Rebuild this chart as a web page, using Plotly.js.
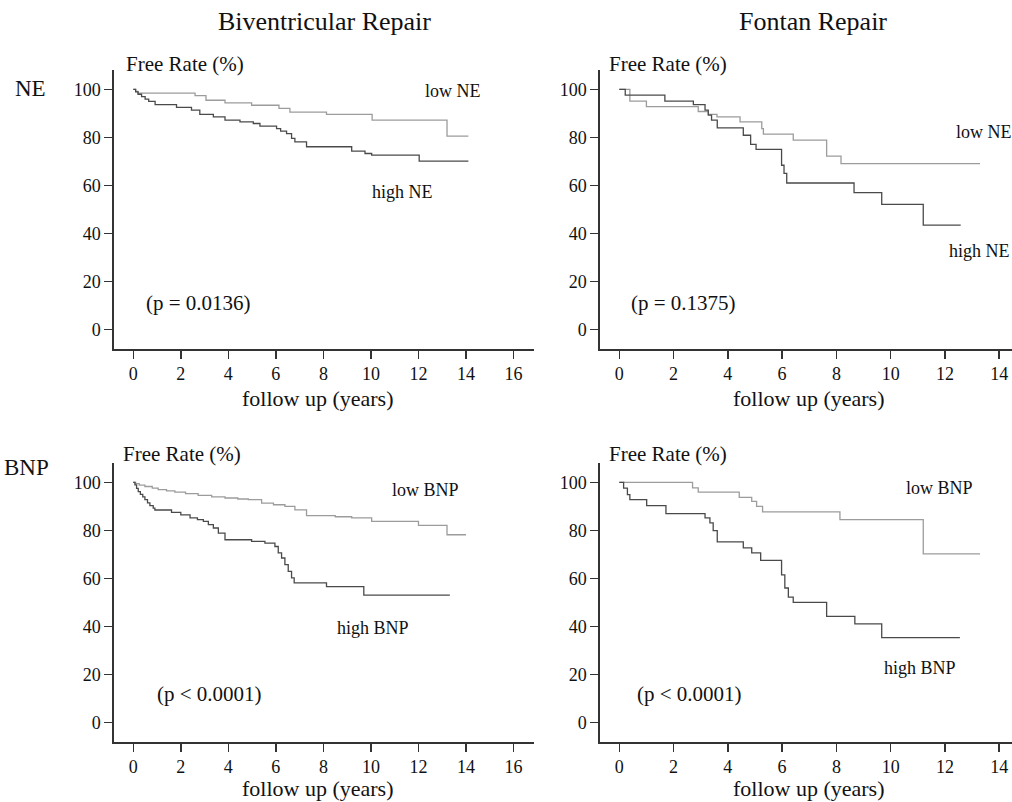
<!DOCTYPE html>
<html>
<head>
<meta charset="utf-8">
<script src="https://cdn.plot.ly/plotly-3.0.1.min.js"></script>
<style>html,body{margin:0;padding:0;background:#fff;}#chart{width:1012px;height:802px;}</style>
</head>
<body>
<div id="chart"></div>
<script>
// ---- Data ----
const xTicksLeft = [0, 2, 4, 6, 8, 10, 12, 14, 16];
const xTicksRight = [0, 2, 4, 6, 8, 10, 12, 14];
const yTicks = [0, 20, 40, 60, 80, 100];

// Biventricular repair, NE
const bivLowNE_t = [0, 0.1, 0.2, 2.6, 3.06, 3.86, 4.98, 6.13, 6.59, 8.13, 10.05, 13.2, 14.1];
const bivLowNE_v = [100, 99.2, 98.5, 97.4, 95.5, 94.4, 93.4, 92.1, 90.5, 89.6, 87.2, 80.5, 80.5];
const bivHighNE_t = [0, 0.1, 0.2, 0.35, 0.5, 0.65, 0.92, 1.82, 2.45, 2.8, 3.37, 3.86, 4.49, 5.05, 5.33, 6.03, 6.2, 6.45, 6.66, 6.8, 7.29, 9.19, 9.75, 10.03, 12.03, 14.1];
const bivHighNE_v = [100, 99, 98, 97, 96, 95, 93.7, 92.5, 91.4, 89.6, 88.6, 87.2, 86.5, 85.8, 84.7, 83.7, 82.6, 81.6, 79.6, 78.1, 76.1, 74.3, 73.3, 72.6, 70.1, 70.1];

// Fontan repair, NE
const fonLowNE_t = [0, 0.39, 1.0, 2.91, 3.28, 3.6, 4.45, 5.25, 5.31, 6.41, 7.64, 8.17, 13.29];
const fonLowNE_v = [100, 95.1, 92.8, 90.8, 89.6, 88.6, 86.5, 83.7, 81.4, 78.9, 72.2, 69.1, 69.1];
const fonHighNE_t = [0, 0.22, 1.68, 2.73, 3.16, 3.28, 3.4, 3.61, 4.57, 4.84, 5.04, 5.98, 6.07, 6.17, 8.65, 9.67, 11.2, 12.58];
const fonHighNE_v = [100, 97.6, 95.1, 93.7, 91.4, 89.3, 87.2, 84, 80.9, 77.1, 75, 68.4, 65, 61, 57, 52.1, 43.4, 43.4];

// Biventricular repair, BNP
const bivLowBNP_t = [0, 0.1, 0.25, 0.49, 0.8, 1.05, 1.4, 1.75, 2.2, 2.73, 3.3, 3.86, 4.4, 4.84, 5.4, 5.9, 6.38, 6.8, 7.29, 8.5, 9.19, 10.03, 12.0, 13.2, 14.0];
const bivLowBNP_v = [100, 99.5, 98.9, 98.3, 97.6, 97, 96.5, 96, 95.3, 94.6, 94, 93.5, 93.1, 92.8, 91.4, 90.7, 90, 88.6, 86.2, 85.7, 85.2, 83.8, 82.1, 78.2, 78.2];
const bivHighBNP_t = [0, 0.07, 0.14, 0.21, 0.3, 0.4, 0.49, 0.6, 0.7, 0.84, 0.91, 1.61, 2.0, 2.39, 2.7, 2.95, 3.16, 3.37, 3.58, 3.86, 4.98, 5.54, 5.96, 6.1, 6.24, 6.38, 6.52, 6.66, 6.77, 8.13, 9.7, 13.32];
const bivHighBNP_v = [100, 99, 97.5, 96.2, 95, 94, 92.8, 91.5, 90.3, 89.3, 88.5, 87.5, 86.5, 85.2, 84.5, 83.8, 82.4, 81, 78.9, 76.1, 75.4, 74.7, 73.3, 70.6, 68.5, 65.7, 62.9, 60.2, 58.1, 56.6, 53, 53];

// Fontan repair, BNP
const fonLowBNP_t = [0, 2.7, 2.91, 4.42, 4.88, 5.06, 5.28, 8.13, 11.2, 13.29];
const fonLowBNP_v = [100, 97.7, 96, 93.8, 92.1, 90, 87.7, 84.5, 70.2, 70.2];
const fonHighBNP_t = [0, 0.16, 0.3, 0.39, 1.01, 1.72, 3.16, 3.34, 3.46, 3.61, 4.57, 4.88, 5.21, 5.98, 6.1, 6.23, 6.41, 7.64, 8.68, 9.67, 12.55];
const fonHighBNP_v = [100, 97.6, 94.9, 92.8, 90.3, 87, 85.2, 83.1, 79.9, 75.2, 72.7, 70.6, 67.5, 61.5, 56, 52.2, 50, 44.2, 41, 35.3, 35.3];

// ---- Styling / layout ----
const W = 1012, H = 802;
const FONT = "Liberation Serif, Times New Roman, serif";
const DARK = "#4a4a4a", LIGHT = "#9c9c9c", TXT = "#111";
const px = v => v / W, py = v => 1 - v / H;

function curve(t, v, color, xa, ya) {
  return {x: t, y: v, type: "scatter", mode: "lines", xaxis: xa, yaxis: ya,
          line: {shape: "hv", color: color, width: 1.3}, hoverinfo: "skip", showlegend: false};
}

const data = [
  curve(bivLowNE_t, bivLowNE_v, LIGHT, "x", "y"),
  curve(bivHighNE_t, bivHighNE_v, DARK, "x", "y"),
  curve(fonLowNE_t, fonLowNE_v, LIGHT, "x2", "y2"),
  curve(fonHighNE_t, fonHighNE_v, DARK, "x2", "y2"),
  curve(bivLowBNP_t, bivLowBNP_v, LIGHT, "x3", "y3"),
  curve(bivHighBNP_t, bivHighBNP_v, DARK, "x3", "y3"),
  curve(fonLowBNP_t, fonLowBNP_v, LIGHT, "x4", "y4"),
  curve(fonHighBNP_t, fonHighBNP_v, DARK, "x4", "y4")
];

function xax(domainPx, range, ticks, anchor) {
  return {domain: [px(domainPx[0]), px(domainPx[1])], range: range, anchor: anchor,
          tickvals: ticks, ticktext: ticks.map(String), ticks: "outside", ticklen: 8, tickwidth: 1.5,
          tickcolor: "#333", showline: true, linecolor: "#333", linewidth: 1.6, showgrid: false,
          zeroline: false, tickfont: {family: FONT, size: 18, color: TXT}, fixedrange: true};
}
function yax(domainPy, range, anchor) {
  return {domain: [py(domainPy[1]), py(domainPy[0])], range: range, anchor: anchor,
          tickvals: yTicks, ticktext: yTicks.map(String), ticks: "outside", ticklen: 8, tickwidth: 1.5,
          tickcolor: "#333", showline: true, linecolor: "#333", linewidth: 1.6, showgrid: false,
          zeroline: false, tickfont: {family: FONT, size: 18, color: TXT}, fixedrange: true};
}

const YR = [-8.2, 108.1];
const layout = {
  width: W, height: H, margin: {l: 0, r: 0, t: 0, b: 0},
  paper_bgcolor: "#fff", plot_bgcolor: "#fff", showlegend: false,
  xaxis: xax([114, 534], [-0.81, 16.86], xTicksLeft, "y"),
  yaxis: yax([70, 349], YR, "x"),
  xaxis2: xax([600, 1012], [-0.71, 14.47], xTicksRight, "y2"),
  yaxis2: yax([70, 349], YR, "x2"),
  xaxis3: xax([114, 534], [-0.81, 16.86], xTicksLeft, "y3"),
  yaxis3: yax([463, 742], YR, "x3"),
  xaxis4: xax([600, 1012], [-0.71, 14.47], xTicksRight, "y4"),
  yaxis4: yax([463, 742], YR, "x4"),
  annotations: []
};

function ann(text, x, y, size, xanchor) {
  layout.annotations.push({text: text, xref: "paper", yref: "paper", x: px(x), y: py(y),
    xanchor: xanchor || "left", yanchor: "middle", showarrow: false,
    font: {family: FONT, size: size, color: TXT}});
}

ann("Biventricular Repair", 324, 22, 26, "center");
ann("Fontan Repair", 813, 22, 26, "center");
ann("NE", 30, 88, 23, "center");
ann("BNP", 26, 468, 23, "center");

ann("Free Rate (%)", 124, 64, 21);
ann("Free Rate (%)", 607, 64, 21);
ann("Free Rate (%)", 121, 454, 21);
ann("Free Rate (%)", 607, 454, 21);

ann("low NE", 423, 91, 18);
ann("high NE", 370, 192, 18);
ann("(p = 0.0136)", 144, 303, 21);
ann("low NE", 954, 132, 18);
ann("high NE", 947, 251, 18);
ann("(p = 0.1375)", 629, 303, 21);

ann("low BNP", 390, 490, 18);
ann("high BNP", 335, 628, 18);
ann("(p &lt; 0.0001)", 155, 694, 21);
ann("low BNP", 904, 488, 18);
ann("high BNP", 882, 668, 18);
ann("(p &lt; 0.0001)", 635, 694, 21);

ann("follow up (years)", 318, 398, 22, "center");
ann("follow up (years)", 809, 398, 22, "center");
ann("follow up (years)", 318, 788, 22, "center");
ann("follow up (years)", 809, 788, 22, "center");

Plotly.newPlot("chart", data, layout, {staticPlot: true, displayModeBar: false});
</script>
</body>
</html>
